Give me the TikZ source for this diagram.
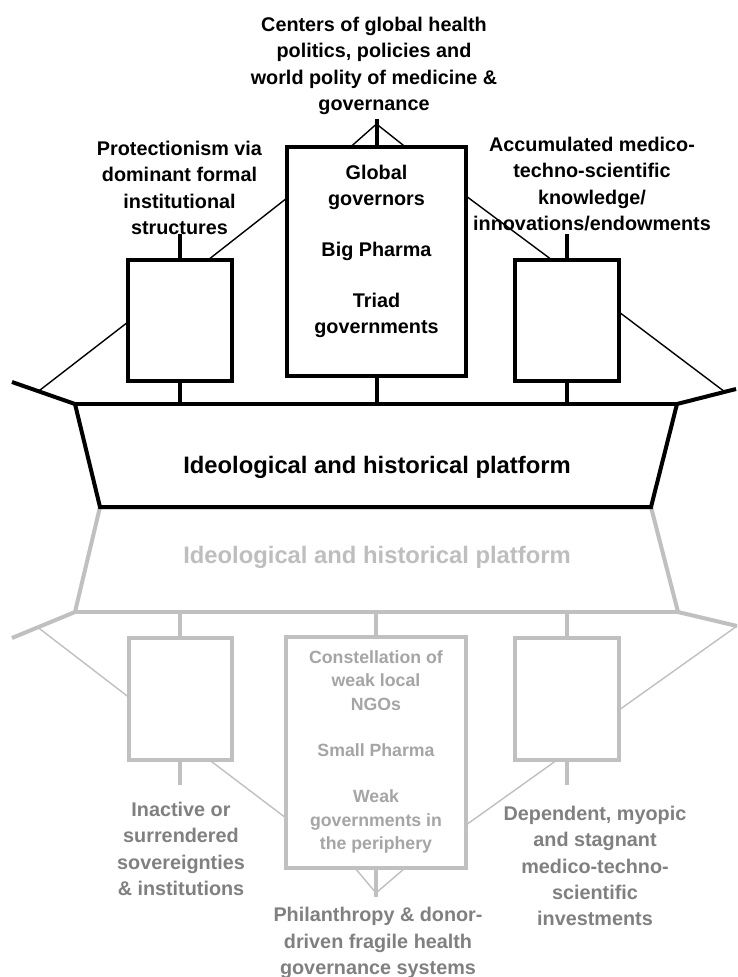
\documentclass[tikz,border=0pt]{standalone}
\usepackage{fontspec}
\setmainfont{Liberation Sans}
\usetikzlibrary{calc}

\definecolor{lineGray}{RGB}{192,192,192}
\definecolor{labelGray}{RGB}{128,128,128}
\definecolor{innerGray}{RGB}{165,165,165}
\definecolor{hullTextGray}{RGB}{190,190,190}

\begin{document}
\begin{tikzpicture}[x=1pt,y=-1pt,
  heavy/.style={line width=4.5pt},
  stemB/.style={line width=4pt},
  hullB/.style={line width=4pt, line join=miter},
  thinB/.style={line width=1.4pt},
  stemG/.style={line width=4pt, draw=lineGray},
  hullG/.style={line width=4pt, line join=miter, draw=lineGray},
  thinG/.style={line width=1.4pt, draw=lineGray},
  boxB/.style={draw, heavy, rectangle, inner sep=0pt, outer sep=0pt},
  boxG/.style={draw=lineGray, line width=4pt, rectangle, inner sep=0pt, outer sep=0pt},
  lbl/.style={align=center, font=\fontsize{19.8}{26.3}\selectfont\bfseries, inner sep=0pt},
  innerlbl/.style={align=center, font=\fontsize{17.7}{23.2}\selectfont\bfseries, inner sep=0pt, text=innerGray},
  hulltxt/.style={font=\fontsize{23.8}{28}\selectfont\bfseries, inner sep=0pt}
]
\useasboundingbox[fill=white] (0,0) rectangle (738,977);

% ---------- hull corners ----------
\coordinate (bowTipL) at (12,382);
\coordinate (deckL) at (75,404);
\coordinate (keelL) at (100,507);
\coordinate (keelR) at (651,507);
\coordinate (deckR) at (677,404);
\coordinate (bowTipR) at (736,389);

\coordinate (gDeckL) at (75,612);
\coordinate (gDeckR) at (678,612);
\coordinate (gBowL) at (12,638);
\coordinate (gBowR) at (737,626);

% ---------- lower (grey) ship ----------
\draw[hullG] (gBowL) -- (gDeckL) -- (keelL) -- (keelR) -- (gDeckR) -- (gBowR);
\draw[hullG] (gDeckL) -- (gDeckR);
\node[hulltxt, text=hullTextGray] (platG) at (377,557) {Ideological and historical platform};

\node[boxG, minimum width=103pt, minimum height=122pt] (lboxG) at (180,699) {};
\node[boxG, minimum width=180pt, minimum height=231pt] (cboxG) at (376,752.5) {};
\node[boxG, minimum width=104pt, minimum height=122pt] (rboxG) at (567,699) {};

\draw[stemG] (lboxG.north) -- (lboxG.north |- gDeckL);
\draw[stemG] (cboxG.north) -- (cboxG.north |- gDeckL);
\draw[stemG] (rboxG.north) -- (rboxG.north |- gDeckL);
\draw[stemG] (lboxG.south) -- ($(lboxG.south)+(0,25)$);
\draw[stemG] (rboxG.south) -- ($(rboxG.south)+(0,25)$);

\draw[thinG] ($(gBowL)!0.41!(gDeckL)$) -- ($(lboxG.north west)+(0,59)$);
\draw[thinG] (gBowR) -- ($(rboxG.north east)+(0,72)$);
\draw[thinG] ($(lboxG.south west)+(81,0)$) -- ($(cboxG.north west)+(0,181)$);
\draw[thinG] ($(cboxG.north east)+(0,188)$) -- ($(rboxG.south west)+(42,0)$);

\coordinate (apexB) at (376,897);
\draw[stemG] (cboxG.south) -- (apexB);
\draw[thinG] ($(cboxG.south)+(-21,0)$) -- ($(apexB)+(0,-4)$) -- ($(cboxG.south)+(29,0)$);

\node[innerlbl] (weakTxt) at (376,752) {Constellation of\\weak local\\NGOs\\[23.2pt]Small Pharma\\[23.2pt]Weak\\governments in\\the periphery};

\node[lbl, text=labelGray] (inactive) at (181,849) {Inactive or\\surrendered\\sovereignties\\\& institutions};
\node[lbl, text=labelGray] (dependent) at (595,866) {Dependent, myopic\\and stagnant\\medico-techno-\\scientific\\investments};
\node[lbl, text=labelGray] (philan) at (378,943) {Philanthropy \& donor-\\driven fragile health\\governance systems};

% ---------- upper (black) ship ----------
\draw[hullB] (bowTipL) -- (deckL) -- (keelL) -- (keelR) -- (deckR) -- (bowTipR);
\draw[hullB] (deckL) -- (deckR);
\node[hulltxt] (plat) at (377,467) {Ideological and historical platform};

\node[boxB, minimum width=179pt, minimum height=229pt] (cbox) at (376.5,261.5) {};
\node[boxB, minimum width=104pt, minimum height=121pt] (lbox) at (180,320.5) {};
\node[boxB, minimum width=104pt, minimum height=121pt] (rbox) at (567,320.5) {};

\draw[stemB] (lbox.south) -- (lbox.south |- deckL);
\draw[stemB] (cbox.south) -- (cbox.south |- deckL);
\draw[stemB] (rbox.south) -- (rbox.south |- deckL);
\draw[stemB] (lbox.north) -- ($(lbox.north)+(0,-26)$);
\draw[stemB] (rbox.north) -- ($(rbox.north)+(0,-26)$);

\draw[thinB] ($(bowTipL)!0.42!(deckL)$) -- ($(lbox.north west)+(0,62)$);
\draw[thinB] ($(deckR)!0.81!(bowTipR)$) -- ($(rbox.north east)+(0,52)$);
\draw[thinB] ($(cbox.north west)+(0,51)$) -- ($(lbox.north west)+(80,0)$);
\draw[thinB] ($(cbox.north east)+(0,49)$) -- ($(rbox.north west)+(37,0)$);

\coordinate (apexT) at (376.5,119);
\draw[stemB] (cbox.north) -- (apexT);
\draw[thinB] ($(cbox.north)+(-26,0)$) -- ($(apexT)+(0,5)$) -- ($(cbox.north)+(29,0)$);

\node[lbl] (govTxt) at (376.5,251.5) {Global\\governors\\[24.5pt]Big Pharma\\[24.5pt]Triad\\governments};

\node[lbl] (title) at (374,66) {Centers of global health\\politics, policies and\\world polity of medicine \&\\governance};
\node[lbl] (protect) at (179.5,188) {Protectionism via\\dominant formal\\institutional\\structures};
\node[lbl] (accum) at (592,184) {Accumulated medico-\\techno-scientific\\knowledge/\\innovations/endowments};
\end{tikzpicture}
\end{document}
